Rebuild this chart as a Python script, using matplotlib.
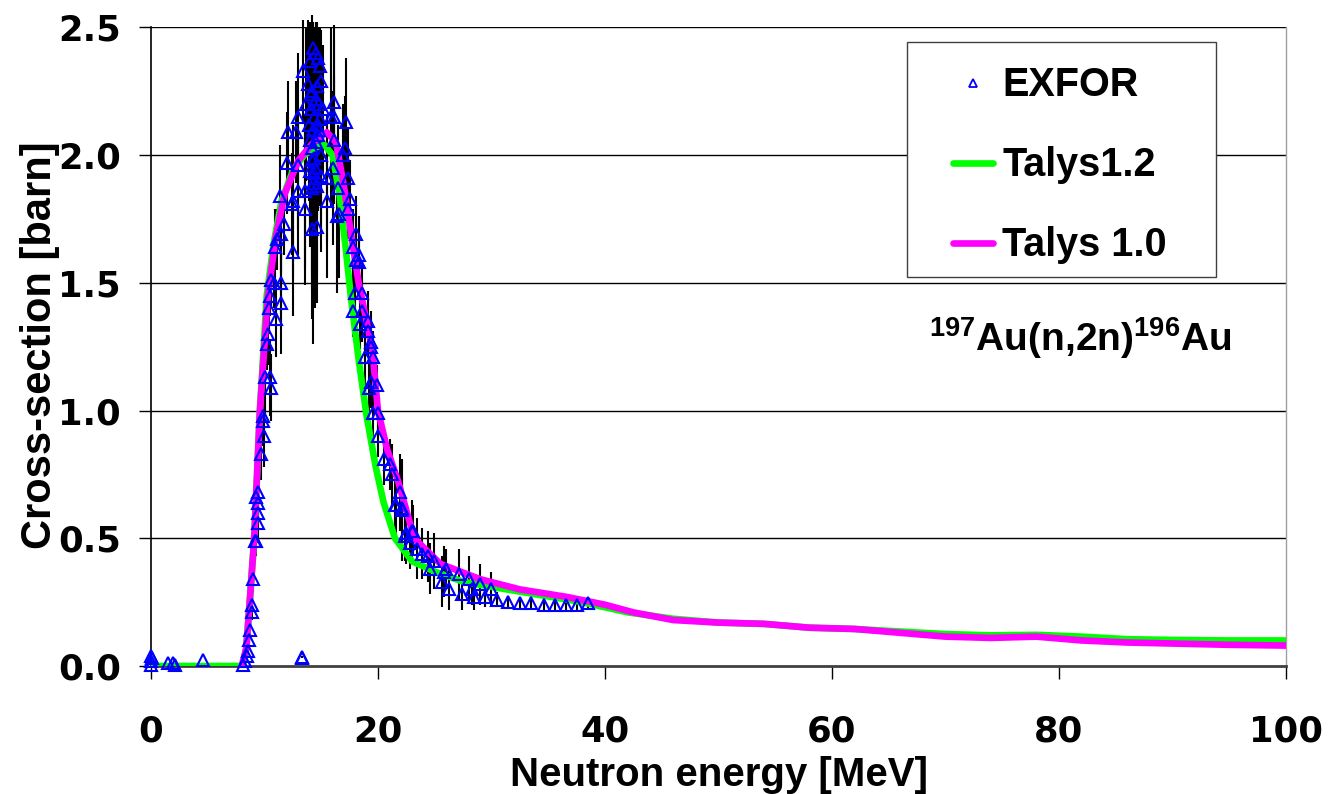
import matplotlib
matplotlib.use("Agg")
import matplotlib.pyplot as plt
from matplotlib.lines import Line2D
from matplotlib.patches import Rectangle

plt.rcParams["font.family"] = ["Liberation Sans", "DejaVu Sans"]
plt.rcParams["font.weight"] = "bold"
plt.rcParams["mathtext.default"] = "regular"

# TALYS-1.2 evaluation, 197Au(n,2n)
talys12_e = [0, 4, 8.1, 8.4, 8.7, 9.1, 9.6, 10.2, 10.8, 11.5, 12.5, 13.5, 14.5, 15.3,
             16.0, 16.6, 17.2, 17.6, 18.3, 19.0, 19.8, 20.5, 21.5, 23.0, 25.0, 27.5,
             30.0, 34.0, 38.0, 42.0, 46.0, 50.0, 54.0, 58.0, 62.0, 66.0, 70.0, 74.0,
             78.0, 82.0, 86.0, 90.0, 95.0, 100.0]
talys12_xs = [0, 0, 0, 0.07, 0.25, 0.5, 1.0, 1.45, 1.65, 1.82, 1.94, 2.0, 2.03, 2.04,
              2.0, 1.85, 1.62, 1.45, 1.2, 0.98, 0.78, 0.64, 0.5, 0.41, 0.37, 0.33,
              0.31, 0.28, 0.25, 0.21, 0.185, 0.17, 0.165, 0.15, 0.145, 0.135, 0.125, 0.12,
              0.122, 0.115, 0.105, 0.102, 0.10, 0.10]

# TALYS-1.0 evaluation
talys10_e = [8.0, 8.4, 8.7, 9.1, 9.6, 10.3, 11.0, 11.8, 13.0, 14.3, 15.5, 16.3, 17.0,
             17.6, 18.3, 19.5, 20.0, 20.8, 21.8, 23.2, 25.5, 29.0, 32.5, 36.7, 40.0,
             42.5, 46.0, 50.0, 54.0, 58.0, 62.0, 66.0, 70.0, 74.0, 78.0, 82.0, 86.0,
             90.0, 95.0, 100.0]
talys10_xs = [0, 0.07, 0.25, 0.5, 1.0, 1.45, 1.68, 1.85, 1.98, 2.05, 2.09, 2.05, 1.88,
              1.7, 1.5, 1.24, 1.0, 0.85, 0.72, 0.5, 0.40, 0.34, 0.30, 0.27, 0.24,
              0.21, 0.18, 0.17, 0.165, 0.15, 0.145, 0.13, 0.115, 0.11, 0.115, 0.10, 0.092,
              0.088, 0.083, 0.08]

# EXFOR measurements: energy [MeV], cross-section [barn], uncertainty [barn]
exfor_e = [
    0.0, 0.0, 0.0, 0.05, 1.5, 1.9, 2.1, 4.6, 13.3, 13.3,
    8.13, 8.28, 8.43, 8.55, 8.6, 8.72, 8.87, 8.87, 9.0, 9.16, 9.25, 9.46, 9.46, 9.46,
    9.46, 9.3, 9.66, 9.96, 9.84, 9.9, 10.04, 10.5, 10.6, 10.2, 10.3, 11.0, 10.4, 11.5,
    10.5, 10.8, 10.6, 11.5, 10.9, 11.1, 12.5, 11.5, 11.7, 11.4, 12.4, 12.5, 13.6, 14.2,
    14.6, 13.0, 13.6, 14.2, 14.6, 14.0, 14.4, 15.0, 15.5, 12.0, 13.0, 14.4, 15.5, 16.4,
    16.5, 17.4, 16.0, 17.1, 16.9, 16.1, 12.1, 12.8, 13.0, 17.2, 16.1, 16.1,
    14.3, 13.4, 14.9, 15.0, 14.0, 14.5, 14.7, 13.8, 14.2, 14.5, 14.8, 14.1, 14.4, 14.6,
    14.3, 14.7, 14.0, 14.5, 14.2, 14.8, 14.9, 14.1, 14.6, 14.35, 13.9, 15.2, 13.7,
    14.25, 14.45, 14.15, 15.0, 15.9,
    17.5, 17.4, 16.6, 18.1, 17.8, 18.3, 18.1, 18.0, 18.6, 18.3, 17.8, 18.6, 19.1, 18.4,
    19.1, 19.4, 19.4, 18.9, 19.6, 19.4, 19.9, 19.2, 19.6, 20.0, 20.0, 20.5, 21.1, 21.2,
    21.9, 21.6, 22.1, 22.5, 23.1, 21.5, 22.1, 22.4, 23.0, 22.8, 23.4, 23.9, 24.4, 24.9,
    24.6, 25.8, 26.0, 25.6, 26.3, 27.1, 27.4, 28.0, 28.3, 28.5, 29.0, 29.4, 30.0, 30.5,
    31.5, 32.5, 33.5, 34.6, 35.6, 36.6, 37.5, 38.5,
]
exfor_xs = [
    0.04, 0.02, 0.005, 0.03, 0.01, 0.01, 0.005, 0.025, 0.035, 0.03,
    0.004, 0.02, 0.04, 0.06, 0.10, 0.14, 0.21, 0.24, 0.34, 0.49, 0.49, 0.56, 0.60, 0.64,
    0.68, 0.66, 0.83, 0.90, 0.98, 0.96, 1.13, 1.13, 1.09, 1.26, 1.30, 1.36, 1.40, 1.42,
    1.45, 1.50, 1.51, 1.50, 1.64, 1.67, 1.62, 1.69, 1.73, 1.84, 1.81, 1.82, 1.79, 1.71,
    1.72, 1.86, 1.86, 1.87, 1.88, 1.94, 1.93, 1.92, 1.91, 1.97, 1.96, 1.99, 1.82, 1.76,
    1.87, 1.91, 1.95, 2.03, 2.00, 2.06, 2.09, 2.09, 2.15, 2.13, 2.15, 2.21,
    2.42, 2.33, 2.35, 2.29, 2.37, 2.40, 2.38, 2.28, 2.25, 2.22, 2.20, 2.18, 2.15, 2.12,
    2.10, 2.08, 2.06, 2.05, 2.03, 2.10, 2.14, 2.24, 2.27, 2.20, 2.12, 2.18, 2.20,
    1.89, 1.95, 1.98, 2.00, 2.15,
    1.83, 1.79, 1.77, 1.69, 1.64, 1.61, 1.59, 1.46, 1.46, 1.58, 1.39, 1.39, 1.35, 1.34,
    1.31, 1.27, 1.25, 1.21, 1.21, 1.11, 1.10, 1.09, 0.99, 0.99, 0.90, 0.81, 0.79, 0.75,
    0.68, 0.63, 0.62, 0.52, 0.53, 0.63, 0.61, 0.51, 0.53, 0.48, 0.46, 0.44, 0.43, 0.41,
    0.38, 0.37, 0.38, 0.33, 0.30, 0.36, 0.28, 0.34, 0.30, 0.27, 0.32, 0.27, 0.30, 0.26,
    0.25, 0.245, 0.245, 0.24, 0.24, 0.24, 0.24, 0.245,
]
exfor_err = [
    0, 0, 0, 0, 0, 0, 0, 0, 0.005, 0,
    0.005, 0.01, 0.01, 0.01, 0.02, 0.02, 0.03, 0.03, 0.05, 0.08, 0.06, 0.08, 0.08, 0.08,
    0.10, 0.06, 0.10, 0.12, 0.08, 0.10, 0.15, 0.15, 0.13, 0.10, 0.12, 0.15, 0.10, 0.20,
    0.08, 0.10, 0.10, 0.12, 0.15, 0.12, 0.25, 0.15, 0.12, 0.20, 0.20, 0.30, 0.30, 0.35,
    0.30, 0.25, 0.30, 0.40, 0.35, 0.30, 0.30, 0.30, 0.25, 0.20, 0.25, 0.35, 0.30, 0.30,
    0.25, 0.20, 0.30, 0.20, 0.20, 0.25, 0.20, 0.20, 0.25, 0.25, 0.30, 0.30,
    0.10, 0.20, 0.15, 0.20, 0.15, 0.12, 0.10, 0.25, 0.30, 0.30, 0.30, 0.30, 0.35, 0.35,
    0.40, 0.30, 0.35, 0.40, 0.30, 0.30, 0.25, 0.25, 0.25, 0.30, 0.30, 0.25, 0.30,
    0.63, 0.55, 0.45, 0.30, 0.35,
    0.15, 0.12, 0.25, 0.15, 0.15, 0.15, 0.12, 0.12, 0.12, 0.12, 0.10, 0.12, 0.12, 0.10,
    0.10, 0.12, 0.10, 0.15, 0.10, 0.10, 0.08, 0.10, 0.10, 0.07, 0.08, 0.10, 0.10, 0.12,
    0.15, 0.12, 0.12, 0.12, 0.10, 0.10, 0.20, 0.10, 0.12, 0.10, 0.12, 0.10, 0.10, 0.11,
    0.10, 0.10, 0.08, 0.10, 0.08, 0.10, 0.06, 0.09, 0.06, 0.05, 0.08, 0.04, 0.07, 0.03,
    0.025, 0.025, 0.025, 0.025, 0.025, 0.025, 0.025, 0.025,
]

x_ticks = [0, 20, 40, 60, 80, 100]
y_ticks = [0.0, 0.5, 1.0, 1.5, 2.0, 2.5]

fig = plt.figure(figsize=(13.31, 7.94), dpi=100)
ax = fig.add_axes([0.1134, 0.1612, 0.8528, 0.8042])

ax.set_xlim(0, 100)
ax.set_ylim(0, 2.5)

for yv in y_ticks[1:]:
    ax.axhline(yv, color="black", lw=1.0, zorder=1)

ax.errorbar(exfor_e, exfor_xs, yerr=exfor_err, fmt="none", ecolor="black",
            elinewidth=1.5, capsize=0, zorder=2, clip_on=False)
ax.plot(talys12_e, talys12_xs, color="#00ff00", lw=4.8, solid_joinstyle="round",
        solid_capstyle="round", zorder=3)
ax.plot(talys10_e, talys10_xs, color="#ff00ff", lw=4.8, solid_joinstyle="round",
        solid_capstyle="round", zorder=3.5)
ax.plot(exfor_e, exfor_xs, ls="none", marker="^", ms=8, mfc="none", mec="#0000ff",
        mew=1.5, zorder=4, clip_on=False)

ax.set_xticks(x_ticks)
ax.set_yticks(y_ticks)
ax.set_xticklabels([str(v) for v in x_ticks])
ax.set_yticklabels([f"{v:.1f}" for v in y_ticks])
ax.tick_params(axis="both", direction="out", labelsize=25.5, width=1.0, colors="black")
ax.tick_params(axis="x", length=9, pad=26)
ax.tick_params(axis="y", length=8.6, pad=13)
for lab in ax.get_xticklabels() + ax.get_yticklabels():
    lab.set_fontweight("bold")
    lab.set_family(["DejaVu Sans"])

ax.spines["top"].set_visible(False)
ax.spines["right"].set_color("#a0a0a0")
ax.spines["right"].set_linewidth(1.0)
ax.spines["left"].set_linewidth(1.2)
ax.spines["bottom"].set_color("#404040")
ax.spines["bottom"].set_linewidth(2.0)

ax.set_xlabel("Neutron energy [MeV]", fontsize=29, fontweight="bold", va="center")
ax.xaxis.set_label_coords(0.5004, -0.171)
ax.set_ylabel("Cross-section [barn]", fontsize=30, fontweight="bold", va="center")
ax.yaxis.set_label_coords(-0.0975, 0.5027)

# legend frame, then the frameless legend placed inside it
ax.add_patch(Rectangle((0.6661, 0.6092), 0.2722, 0.3681, transform=ax.transAxes,
                       facecolor="white", edgecolor="#404040", lw=1.0, zorder=5,
                       clip_on=False))
handles = [
    Line2D([], [], ls="none", marker="^", ms=6, mfc="none", mec="#0000ff", mew=1.3),
    Line2D([], [], color="#00ff00", lw=4.8, solid_capstyle="round"),
    Line2D([], [], color="#ff00ff", lw=4.8, solid_capstyle="round"),
]
leg = ax.legend(handles, ["EXFOR", "Talys1.2", "Talys 1.0"], loc="center left",
                bbox_to_anchor=(0.7066, 0.784), prop={"size": 28.5, "weight": "bold"},
                frameon=False, borderpad=0, labelspacing=1.06, handlelength=1.0,
                handletextpad=0.25, borderaxespad=0)
leg.set_zorder(6)

ax.text(0.9524, 0.5137, r"$^{197}$Au(n,2n)$^{196}$Au", transform=ax.transAxes,
        ha="right", va="center", fontsize=28, fontweight="bold")

fig.savefig("out.png", dpi=100)
